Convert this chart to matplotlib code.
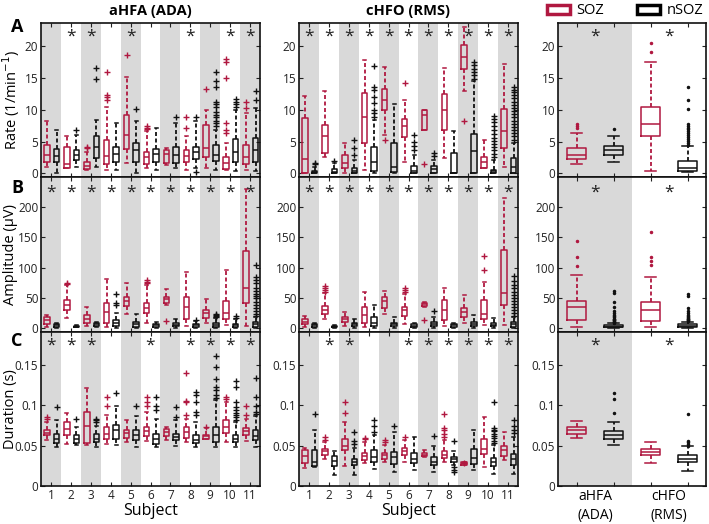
import matplotlib
matplotlib.use("Agg")
import matplotlib.pyplot as plt
from matplotlib.patches import Patch

plt.rcParams['font.family'] = ['Open Sans', 'DejaVu Sans']

# ---------------- data: (whisker low, q1, median, q3, whisker high) ----------------
subjects = [1, 2, 3, 4, 5, 6, 7, 8, 9, 10, 11]
methods = ["aHFA\n(ADA)", "cHFO\n(RMS)"]

# Panel A : rate (1/min)
rate_ada_soz = [(1.0, 1.8, 2.9, 4.5, 8.2), (0.8, 0.8, 1.4, 4.2, 5.8), (0.5, 0.6, 1.2, 1.8, 3.4),
                (0.5, 1.4, 2.7, 5.2, 10.5), (1.6, 3.8, 6.0, 9.2, 15.2), (0.8, 1.4, 2.5, 3.3, 6.6),
                (1.3, 1.6, 3.0, 3.7, 3.9), (0.5, 1.7, 2.7, 3.6, 5.8), (0.8, 2.6, 3.9, 7.6, 10.0),
                (0.5, 0.7, 1.6, 2.6, 4.7), (0.5, 1.4, 2.5, 4.5, 9.5)]
rate_ada_soz_out = [[], [], [3.9, 4.2], [11.5, 12.0, 12.3, 15.9], [18.6], [6.9, 7.1, 7.4], [],
                    [7.1, 8.8], [13.3], [6.3, 6.8, 7.9, 15.0, 17.6, 18.0], [10.3, 11.3]]
rate_ada_nsoz = [(0.0, 1.8, 2.7, 3.8, 6.8), (1.0, 2.1, 2.9, 3.6, 6.0), (1.0, 2.4, 4.2, 5.8, 8.4),
                 (0.5, 1.8, 3.0, 4.1, 7.9), (0.0, 1.8, 3.7, 4.8, 8.2), (0.5, 1.7, 3.1, 3.8, 7.1),
                 (0.8, 1.6, 2.9, 4.2, 7.9), (0.8, 2.2, 3.3, 4.2, 8.2), (0.5, 2.0, 2.9, 4.4, 6.8),
                 (0.4, 1.7, 3.4, 5.4, 10.0), (0.4, 1.7, 3.6, 5.5, 10.3)]
rate_ada_nsoz_out = [[], [6.8], [14.9, 16.6], [], [10.1], [], [8.8], [8.8, 0.2],
                     [7.4, 7.9, 8.3, 8.8, 9.2, 9.7, 10.5, 10.9, 11.3, 13.6, 14.5, 15.9],
                     [10.5, 10.9, 11.3, 11.7], [11.6, 12.9]]

rate_rms_soz = [(0.0, 0.0, 2.2, 8.7, 12.2), (2.6, 3.2, 5.8, 7.6, 12.9), (0.0, 0.8, 1.6, 2.9, 4.8),
                (0.5, 4.8, 8.9, 12.7, 17.9), (6.0, 10.0, 11.6, 13.3, 16.8), (1.8, 5.7, 7.4, 8.5, 11.6),
                (6.8, 6.8, 9.2, 9.9, 9.9), (2.4, 6.8, 9.9, 12.5, 16.6), (12.9, 16.4, 18.4, 20.3, 23.0),
                (0.8, 0.8, 1.7, 2.6, 5.3), (1.0, 3.9, 6.6, 10.1, 17.2)]
rate_rms_soz_out = [[], [], [], [], [5.3], [14.3], [1.5], [], [8.2], [], []]
rate_rms_nsoz = [(0.0, 0.0, 0.15, 0.4, 1.05), (0.0, 0.05, 0.25, 0.6, 1.6), (0.0, 0.0, 0.35, 0.8, 2.1),
                 (0.0, 0.4, 1.8, 4.2, 8.4), (0.0, 0.15, 0.95, 4.8, 10.9), (0.0, 0.0, 0.4, 1.2, 2.9),
                 (0.0, 0.1, 0.6, 1.15, 2.1), (0.0, 0.0, 0.0, 3.2, 6.6), (0.0, 0.1, 3.5, 6.2, 14.5),
                 (0.0, 0.0, 0.3, 0.5, 2.1), (0.0, 0.1, 1.0, 2.4, 4.7)]
rate_rms_nsoz_out = [[1.4, 1.6], [1.9], [2.9, 3.9, 5.3],
                     [8.9, 9.5, 10.0, 11.0, 12.1, 13.2, 13.6, 16.9], [],
                     [3.7, 4.3, 4.9, 6.0], [2.7, 3.2], [],
                     [14.9, 15.5, 16.0, 16.5, 17.0, 17.5],
                     [2.6, 3.1, 3.6, 4.1, 4.6, 5.1, 5.6, 6.2, 6.8, 7.4, 8.0, 8.5, 9.0],
                     [5.3, 5.8, 6.3, 6.8, 7.3, 7.8, 8.3, 8.8, 9.3, 9.8, 10.3, 10.8, 11.3,
                      11.8, 12.3, 12.8, 13.2, 13.6]]

rate_soz_all = [(1.4, 2.2, 2.9, 4.05, 6.4), (0.4, 5.8, 7.8, 10.5, 17.6)]
rate_soz_all_out = [[7.1, 7.5, 7.8], [19.2, 20.5]]
rate_nsoz_all = [(1.8, 2.8, 3.7, 4.3, 5.9), (0.2, 0.4, 0.8, 1.95, 4.3)]
rate_nsoz_all_out = [[6.9], [4.5, 4.8, 5.1, 5.4, 5.7, 6.0, 6.3, 6.6, 6.9, 7.2, 7.5, 7.8,
                             10.1, 11.6, 13.6]]

# Panel B : amplitude (uV)
amp_ada_soz = [(3, 7, 13.7, 19, 22), (16.4, 31, 39, 46.6, 71), (4, 9.3, 14.8, 22, 35.6),
               (3, 9.3, 27.4, 41, 82), (23.6, 36.7, 45.5, 51, 74), (9.3, 25.8, 34, 42, 71),
               (38, 42, 47.7, 52, 64), (3.8, 14.8, 35.6, 52, 93), (9.3, 16.4, 24.7, 31, 49),
               (5.5, 14.8, 24.7, 45, 96), (3.8, 41, 65.7, 127, 230)]
amp_ada_soz_out = [[], [73, 75], [], [], [], [75, 77, 79], [12.6], [], [], [], []]
amp_ada_nsoz = [(1, 2.7, 5, 6.6, 8), (1.5, 2, 3, 4, 5), (2, 3.8, 6.6, 8.2, 11),
                (1, 3.8, 8.2, 13.7, 24.7), (1, 2.7, 6.6, 11, 23.6), (1, 2.7, 5, 7, 11),
                (1, 3.8, 5.5, 8.2, 14.8), (1, 2.7, 5, 7, 12.6), (1, 2.7, 5.5, 8.2, 16.4),
                (1, 2.7, 5, 7, 14.8), (1, 2.7, 7, 11, 19)]
amp_ada_nsoz_out = [[], [], [], [38, 42, 56], [], [], [], [14], [18, 20, 22, 24], [17, 20.8],
                    [21, 24, 28, 33, 38, 44, 50, 53, 57, 62, 66, 74, 79, 84, 104]]

amp_rms_soz = [(3, 7, 11, 15, 20), (14.8, 23.6, 31, 36.7, 57.5), (4, 11, 15.3, 19, 27),
               (3, 9.3, 22, 35.6, 60), (23.6, 33, 45.5, 51, 62), (7, 20, 30, 35.6, 57),
               (35, 37, 39.5, 41, 43), (3.8, 13.7, 31, 46.6, 66), (9.3, 19, 27.4, 33, 55),
               (5.5, 14.8, 23.6, 46.6, 77), (5.5, 38.4, 58.6, 129, 214)]
amp_rms_soz_out = [[], [60, 63, 66, 69], [], [], [], [60, 63, 66], [13.7], [], [], [96, 119], []]
amp_rms_nsoz = [(1, 3, 5, 7, 9.3), (1, 2, 3, 4, 5), (1, 3.8, 6.5, 9.3, 14.8),
                (1, 3.8, 9.3, 19, 38), (1, 3.8, 6.5, 9.3, 19), (1, 2.7, 4.5, 6.5, 9),
                (1, 3.8, 6.5, 11, 19), (1, 3, 5, 7, 9), (1, 3.8, 6.5, 11, 22),
                (1, 3.8, 6, 9.3, 16.4), (1, 2.7, 6.5, 11, 19)]
amp_rms_nsoz_out = [[], [], [], [], [], [], [29], [], [], [],
                    [21, 25, 30, 35, 40, 45, 50, 55, 60, 66, 72, 78, 86]]

amp_soz_all = [(3, 14, 34.4, 45.5, 88), (3, 12, 30.5, 44, 84)]
amp_soz_all_out = [[103, 117, 143], [105, 111, 118, 159]]
amp_nsoz_all = [(0.5, 1.5, 3, 5.5, 8), (0.5, 1.5, 3.9, 6.7, 11)]
amp_nsoz_all_out = [[9, 10, 11, 12, 13, 14, 15, 16, 18, 20, 22, 25, 28, 35, 43, 58, 62],
                    [12, 13, 14, 15, 16, 17, 18, 20, 22, 25, 28, 34, 53, 57]]

# Panel C : duration (s)
dur_ada_soz = [(.0576, .063, .0663, .0692, .0796), (.0526, .063, .0713, .0796, .090),
               (.0506, .0535, .074, .092, .122), (.0526, .0588, .065, .0733, .088),
               (.0547, .060, .066, .069, .0816), (.056, .0617, .0684, .0733, .092),
               (.0568, .0617, .067, .0713, .0733), (.054, .060, .067, .0733, .0837),
               (.058, .0588, .0617, .0638, .072), (.055, .066, .0733, .0816, .104),
               (.056, .063, .0684, .0725, .0837)]
dur_ada_soz_out = [[.0825, .0858], [], [], [.099, .111], [], [.099, .104, .111], [],
                   [.088, .104, .106, .1397], [.0733], [.108, .111], [.088, .099]]
dur_ada_nsoz = [(.0485, .0535, .0588, .065, .0816), (.0506, .0535, .0588, .063, .0733),
                (.0485, .0547, .0588, .065, .075), (.0506, .0588, .069, .0762, .099),
                (.0485, .0568, .063, .069, .0866), (.0485, .0526, .0588, .065, .0837),
                (.049, .0568, .061, .065, .0816), (.0485, .0535, .0576, .063, .0796),
                (.0485, .0547, .063, .0733, .1065), (.0485, .0547, .0588, .063, .0796),
                (.0485, .0568, .0617, .069, .0866)]
dur_ada_nsoz_out = [[.098], [.0825], [.0795, .0816, .0837], [.115], [.099], [.094, .099, .111],
                    [.085, .098], [.088, .092, .104, .113, .117],
                    [.109, .113, .119, .123, .133, .147, .161],
                    [.082, .085, .088, .091, .094, .098, .104, .123, .1305],
                    [.089, .092, .099, .111, .1334]]

dur_rms_soz = [(.022, .029, .037, .045, .047), (.033, .038, .0437, .0465, .055),
               (.0245, .0444, .0493, .0589, .0795), (.028, .0328, .0373, .041, .055),
               (.030, .034, .038, .041, .0506), (.030, .038, .0437, .0477, .0576),
               (.0364, .0373, .039, .041, .045), (.030, .0353, .039, .0435, .0568),
               (.0257, .0257, .028, .030, .030), (.0236, .0394, .0465, .058, .085),
               (.0328, .037, .0444, .0493, .067)]
dur_rms_soz_out = [[], [.057, .061], [.0907, .1044], [.058, .060], [.054, .057], [.061], [],
                   [.061, .065, .069, .072, .089], [.028], [], []]
dur_rms_nsoz = [(.024, .0245, .030, .0452, .069), (.0133, .0245, .0307, .037, .0435),
                (.0133, .0257, .030, .034, .0477), (.0216, .030, .036, .0444, .063),
                (.0174, .0278, .036, .0423, .067), (.0195, .0286, .034, .0415, .0609),
                (.0174, .0257, .030, .036, .049), (.0257, .030, .033, .036, .0435),
                (.0195, .0278, .0353, .0465, .069), (.0153, .0245, .030, .0353, .0506),
                (.0153, .0257, .033, .0403, .0609)]
dur_rms_nsoz_out = [[.089], [], [.052, .0557, .067], [.0675, .075, .0815], [.074], [], [.062],
                    [.0555, .0236, .020, .0174], [],
                    [.053, .056, .059, .062, .065, .068, .070, .072, .1044],
                    [.066, .070, .075, .082]]

dur_soz_all = [(.060, .065, .069, .073, .080), (.028, .039, .042, .046, .055)]
dur_soz_all_out = [[], []]
dur_nsoz_all = [(.051, .058, .063, .068, .079), (.019, .030, .034, .038, .049)]
dur_nsoz_all_out = [[.09, .108, .115], [.050, .052, .054, .056, .089]]

# significance markers (subjects with *)
sig_rate_ada = [2, 3, 5, 8, 10, 11]
sig_rate_rms = subjects
sig_amp_ada = subjects
sig_amp_rms = subjects
sig_dur_ada = [1, 2, 3, 6, 8, 9, 10, 11]
sig_dur_rms = [2, 3, 6, 7, 8, 9, 10, 11]
sig_all = [1, 2]

rate_ticks = [0, 5, 10, 15, 20]
amp_ticks = [0, 50, 100, 150, 200]
dur_ticks = [0, 0.05, 0.1, 0.15]
dur_ticklabels = ["0", "0.05", "0.1", "0.15"]

# ---------------- drawing ----------------
RED = '#B01840'
BLK = '#111111'
GREY = '#D9D9D9'
W, H = 709, 524
fig = plt.figure(figsize=(W / 100, H / 100), dpi=100)


def rect(x0, x1, y0, y1):
    return [x0 / W, 1 - y1 / H, (x1 - x0) / W, (y1 - y0) / H]


cols = [(41, 260), (299, 518), (558, 706)]
rows = [(23, 177), (177, 332), (332, 486)]
label_x = [-0.085, -0.105, -0.105]


def draw(ax, summ, outs, pos, color, marker, width, capw):
    st = [dict(whislo=s[0], q1=s[1], med=s[2], q3=s[3], whishi=s[4], fliers=o)
          for s, o in zip(summ, outs)]
    lw = 1.1
    ax.bxp(st, positions=pos, widths=width, capwidths=capw, manage_ticks=False,
           boxprops=dict(color=color, lw=lw), medianprops=dict(color=color, lw=lw),
           whiskerprops=dict(color=color, lw=lw + 0.2, ls=(0, (2.2, 1.4))),
           capprops=dict(color=color, lw=lw),
           flierprops=dict(marker=marker, markeredgecolor=color, markerfacecolor=color,
                           markersize=4 if marker == '+' else 3, mew=1.0, ls='none'))


panels = [
    (rate_ada_soz, rate_ada_soz_out, rate_ada_nsoz, rate_ada_nsoz_out,
     rate_rms_soz, rate_rms_soz_out, rate_rms_nsoz, rate_rms_nsoz_out,
     rate_soz_all, rate_soz_all_out, rate_nsoz_all, rate_nsoz_all_out,
     (-0.6, 23.7), rate_ticks, [str(t) for t in rate_ticks], 21.6,
     sig_rate_ada, sig_rate_rms, "Rate (1/min$^{-1}$)"),
    (amp_ada_soz, amp_ada_soz_out, amp_ada_nsoz, amp_ada_nsoz_out,
     amp_rms_soz, amp_rms_soz_out, amp_rms_nsoz, amp_rms_nsoz_out,
     amp_soz_all, amp_soz_all_out, amp_nsoz_all, amp_nsoz_all_out,
     (-6, 249), amp_ticks, [str(t) for t in amp_ticks], 223,
     sig_amp_ada, sig_amp_rms, "Amplitude (\u03bcV)"),
    (dur_ada_soz, dur_ada_soz_out, dur_ada_nsoz, dur_ada_nsoz_out,
     dur_rms_soz, dur_rms_soz_out, dur_rms_nsoz, dur_rms_nsoz_out,
     dur_soz_all, dur_soz_all_out, dur_nsoz_all, dur_nsoz_all_out,
     (0, 0.191), dur_ticks, dur_ticklabels, 0.174,
     sig_dur_ada, sig_dur_rms, "Duration (s)"),
]

TICK_FS = 8.5
for r, p in enumerate(panels):
    (s1, s1o, n1, n1o, s2, s2o, n2, n2o, sa, sao, na, nao,
     ylim, yt, ytl, ystar, sig1, sig2, ylab) = p
    y0, y1 = rows[r]
    for c in range(3):
        ax = fig.add_axes(rect(cols[c][0], cols[c][1], y0, y1))
        ax.set_ylim(*ylim)
        ax.set_yticks(yt)
        ax.set_yticklabels(ytl)
        if c < 2:
            soz, sozo, nsoz, nsozo = (s1, s1o, n1, n1o) if c == 0 else (s2, s2o, n2, n2o)
            sig = sig1 if c == 0 else sig2
            ax.set_xlim(0.5, 11.5)
            for k in subjects[::2]:
                ax.axvspan(k - 0.5, k + 0.5, color=GREY, lw=0, zorder=0)
            draw(ax, soz, sozo, [k - 0.2 for k in subjects], RED, '+', 0.28, 0.15)
            draw(ax, nsoz, nsozo, [k + 0.28 for k in subjects], BLK, '+', 0.28, 0.15)
            ax.set_xticks(subjects)
            for k in sig:
                ax.text(k, ystar, '*', ha='center', va='center', fontsize=12.5, color='#222')
            if r == 2:
                ax.set_xticklabels([str(k) for k in subjects])
                ax.set_xlabel("Subject", fontsize=11.5, labelpad=1)
            else:
                ax.set_xticklabels([])
        else:
            ax.set_xlim(0.5, 2.5)
            ax.axvspan(0.5, 1.5, color=GREY, lw=0, zorder=0)
            draw(ax, sa, sao, [0.75, 1.75], RED, '.', 0.27, 0.16)
            draw(ax, na, nao, [1.25, 2.25], BLK, '.', 0.27, 0.16)
            ax.set_xticks([0.75, 1.25, 1.75, 2.25])
            ax.set_xticklabels([])
            for k in sig_all:
                ax.text(k, ystar, '*', ha='center', va='center', fontsize=12.5, color='#222')
            if r == 2:
                ax.set_xticks([1, 2], minor=True)
                ax.set_xticklabels(methods, minor=True, fontsize=10, linespacing=1.35)
                ax.tick_params(axis='x', which='minor', length=0, pad=2)
        ax.tick_params(which='major', direction='in', top=True, right=True, length=3,
                       width=0.8, labelsize=TICK_FS, colors='#222', pad=2)
        for sp in ax.spines.values():
            sp.set_linewidth(1.2)
            sp.set_color('#111')
            sp.set_zorder(5)
        if c == 0:
            ax.set_ylabel(ylab, fontsize=10.5)
            ax.yaxis.set_label_coords(label_x[r], 0.5)

# titles, panel letters
fig.text(150.5 / W, 1 - 11 / H, "aHFA (ADA)", ha='center', va='center', fontsize=10.5, weight='bold')
fig.text(408.5 / W, 1 - 11 / H, "cHFO (RMS)", ha='center', va='center', fontsize=10.5, weight='bold')
for lab, yy in zip("ABC", [27, 188, 341]):
    fig.text(17 / W, 1 - yy / H, lab, ha='center', va='center', fontsize=13, weight='bold')

handles = [Patch(facecolor='white', edgecolor=RED, lw=2.5),
           Patch(facecolor='white', edgecolor='black', lw=2.5)]
fig.legend(handles, ["SOZ", "nSOZ"], loc='center', bbox_to_anchor=(625 / W, 1 - 11 / H),
           ncol=2, frameon=False, fontsize=10.5, handlelength=1.6, handleheight=0.6,
           columnspacing=2.2, handletextpad=0.45, borderpad=0, borderaxespad=0)

fig.savefig("out.png", dpi=100)
